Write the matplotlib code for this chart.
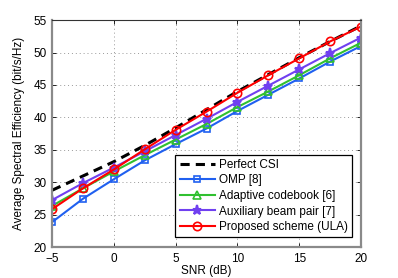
import matplotlib
matplotlib.use("Agg")
import matplotlib.pyplot as plt

plt.rcParams['font.family'] = ['Liberation Sans', 'DejaVu Sans']

snr = [-5, -2.5, 0, 2.5, 5, 7.5, 10, 12.5, 15, 17.5, 20]
perfect = [28.8, 31.0, 33.2, 35.7, 38.4, 41.2, 44.0, 46.6, 49.2, 51.7, 54.1]
omp = [23.9, 27.5, 30.5, 33.4, 35.9, 38.3, 41.0, 43.5, 46.0, 48.6, 51.0]
adaptive = [26.4, 29.1, 31.7, 34.2, 36.6, 39.0, 41.6, 44.0, 46.5, 49.1, 51.5]
auxiliary = [27.3, 29.9, 32.3, 34.8, 37.3, 39.8, 42.4, 44.9, 47.4, 49.9, 52.3]
proposed = [25.9, 29.1, 32.0, 35.1, 38.1, 40.9, 43.8, 46.5, 49.1, 51.7, 54.0]

fig = plt.figure(figsize=(3.98, 2.78), dpi=100)
ax = fig.add_axes([0.131, 0.110, 0.776, 0.818])

ax.plot(snr, perfect, '--', color='black', lw=2.2, dashes=(3, 2), label='Perfect CSI')
ax.plot(snr, omp, '-s', color='#2060f0', lw=1.5, ms=5, mfc='none', mew=1.2, label='OMP [8]')
ax.plot(snr, adaptive, '-^', color='#30c030', lw=1.5, ms=5.5, mfc='none', mew=1.2, label='Adaptive codebook [6]')
ax.plot(snr, auxiliary, '-*', color='#7040f0', lw=1.5, ms=6.5, mew=1.5, label='Auxiliary beam pair [7]')
ax.plot(snr, proposed, '-o', color='#ff0000', lw=1.5, ms=6, mfc='none', mew=1.2, label='Proposed scheme (ULA)')

ax.set_xlim(-5, 20)
ax.set_ylim(20, 55)
ax.set_xticks([-5, 0, 5, 10, 15, 20])
ax.set_yticks([20, 25, 30, 35, 40, 45, 50, 55])
ax.grid(True, linestyle=(0, (1, 3)), color='#999999', lw=0.7)
ax.tick_params(direction='in', top=True, right=True, labelsize=8.5, length=3, width=0.6, pad=4)
ax.set_xticklabels(['\u22125', '0', '5', '10', '15', '20'])

for s in ['left', 'bottom', 'right']:
    ax.spines[s].set_color('#8a8a8a')
    ax.spines[s].set_linewidth(1.6)
ax.spines['top'].set_color('#333333')
ax.spines['top'].set_linewidth(0.8)

ax.set_xlabel('SNR (dB)', fontsize=8.5, labelpad=0)
ax.set_ylabel('Average Spectral Efficiency (bit/s/Hz)', fontsize=8.5, labelpad=6)

leg = ax.legend(loc='lower right', bbox_to_anchor=(0.97, 0.045), borderaxespad=0,
                fontsize=8.5, fancybox=False, framealpha=1, edgecolor='black',
                handlelength=3.0, labelspacing=0.3, borderpad=0.35, handletextpad=0.3)
leg.get_frame().set_linewidth(0.9)

fig.savefig('out.png', dpi=100)
